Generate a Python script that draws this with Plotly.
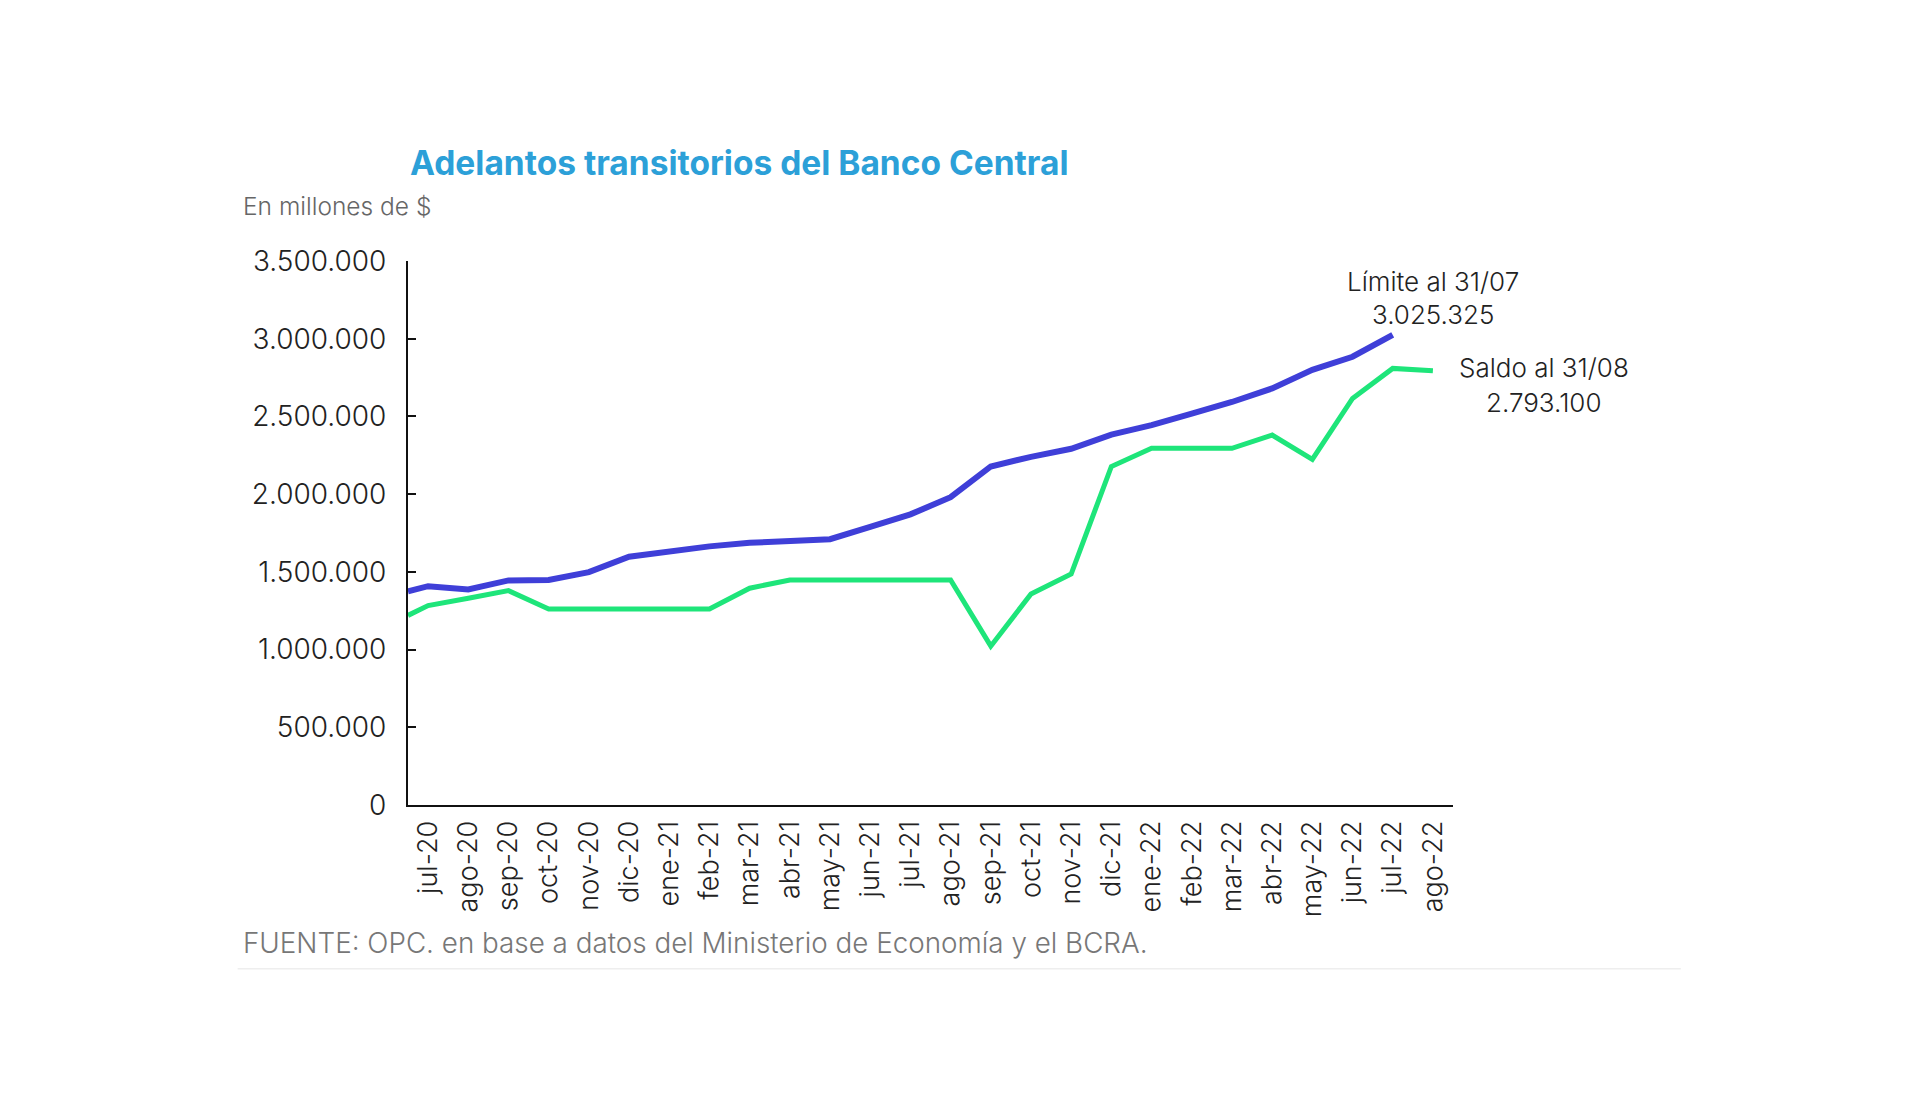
import plotly.graph_objects as go

meses = ["jul-20", "ago-20", "sep-20", "oct-20", "nov-20", "dic-20", "ene-21", "feb-21",
         "mar-21", "abr-21", "may-21", "jun-21", "jul-21", "ago-21", "sep-21", "oct-21",
         "nov-21", "dic-21", "ene-22", "feb-22", "mar-22", "abr-22", "may-22", "jun-22",
         "jul-22", "ago-22"]

# Valor al inicio del período (borde izquierdo del eje)
limite_inicio = 1375000
saldo_inicio = 1220000

limite = [1408000, 1387000, 1445000, 1448000, 1498000, 1597000, 1630000, 1664000,
          1687000, 1694000, 1710000, 1790000, 1870000, 1980000, 2178000, 2240000,
          2292000, 2383000, 2444000, 2518000, 2593000, 2680000, 2800000, 2884000,
          3025325]

saldo = [1283000, 1330000, 1379000, 1261000, 1261000, 1261000, 1261000, 1261000,
         1395000, 1448000, 1448000, 1448000, 1448000, 1448000, 1022000, 1358000,
         1486000, 2178000, 2295000, 2295000, 2295000, 2380000, 2224000, 2616000,
         2809000, 2793100]

y_ticks = [0, 500000, 1000000, 1500000, 2000000, 2500000, 3000000, 3500000]
y_ticktext = ["0", "500.000", "1.000.000", "1.500.000", "2.000.000", "2.500.000",
              "3.000.000", "3.500.000"]

FONT = "Inter"
BLUE = "#3F3FD8"
GREEN = "#1EE57A"

idx = list(range(len(meses)))

fig = go.Figure()
fig.add_trace(go.Scatter(
    x=[-0.5] + idx[:len(limite)], y=[limite_inicio] + limite,
    mode="lines", line=dict(color=BLUE, width=6), showlegend=False,
    name="Límite"))
fig.add_trace(go.Scatter(
    x=[-0.5] + idx[:len(saldo)], y=[saldo_inicio] + saldo,
    mode="lines", line=dict(color=GREEN, width=5), showlegend=False,
    name="Saldo"))

txt_dark = "#222222"

fig.update_layout(
    width=1920, height=1095,
    margin=dict(l=400, r=475, t=253, b=298),
    paper_bgcolor="white", plot_bgcolor="white",
    font=dict(family=FONT, color=txt_dark),
    xaxis=dict(
        range=[-0.5, len(meses) - 0.5],
        tickmode="array", tickvals=idx, ticktext=meses,
        tickangle=-90, tickfont=dict(size=27, color=txt_dark, weight=300),
        showgrid=False, zeroline=False,
        showline=True, linecolor="#111111", linewidth=2,
        ticks="", ticklabelstandoff=3,
    ),
    yaxis=dict(
        range=[0, 3500000],
        tickmode="array", tickvals=y_ticks, ticktext=y_ticktext,
        tickfont=dict(size=28, color=txt_dark, weight=300),
        showgrid=False, zeroline=False,
        showline=True, linecolor="#111111", linewidth=2,
        ticks="inside", ticklen=8, tickwidth=2, tickcolor="#111111",
        ticklabelstandoff=14,
    ),
)

ann = []
ann.append(dict(text="<b>Adelantos transitorios del Banco Central</b>",
                xref="paper", yref="paper", x=0.0, y=1.18,
                xanchor="left", yanchor="middle", showarrow=False,
                font=dict(family=FONT, size=33.5, color="#2CA0D8")))
ann.append(dict(text="En millones de $",
                xref="paper", yref="paper", x=-0.16, y=1.101,
                xanchor="left", yanchor="middle", showarrow=False,
                font=dict(family=FONT, size=24.5, color="#666666", weight=300)))
ann.append(dict(text="FUENTE: OPC. en base a datos del Ministerio de Economía y el BCRA.",
                xref="paper", yref="paper", x=-0.16, y=-0.254,
                xanchor="left", yanchor="middle", showarrow=False,
                font=dict(family=FONT, size=27.8, color="#777777", weight=300)))
ann.append(dict(text="Límite al 31/07", xref="paper", yref="paper", x=0.981, y=0.9615,
                xanchor="center", yanchor="middle", showarrow=False,
                font=dict(family=FONT, size=26, color=txt_dark, weight=300)))
ann.append(dict(text="3.025.325", xref="paper", yref="paper", x=0.981, y=0.9025,
                xanchor="center", yanchor="middle", showarrow=False,
                font=dict(family=FONT, size=26, color=txt_dark, weight=300)))
ann.append(dict(text="Saldo al 31/08", xref="paper", yref="paper", x=1.0868, y=0.8035,
                xanchor="center", yanchor="middle", showarrow=False,
                font=dict(family=FONT, size=26, color=txt_dark, weight=300)))
ann.append(dict(text="2.793.100", xref="paper", yref="paper", x=1.0868, y=0.7395,
                xanchor="center", yanchor="middle", showarrow=False,
                font=dict(family=FONT, size=26, color=txt_dark, weight=300)))
fig.update_layout(annotations=ann)

fig.add_shape(type="line", xref="paper", yref="paper",
              x0=-0.163, x1=1.218, y0=-0.301, y1=-0.301,
              line=dict(color="#EEEEEE", width=1.5))

fig.write_html("out.html")
